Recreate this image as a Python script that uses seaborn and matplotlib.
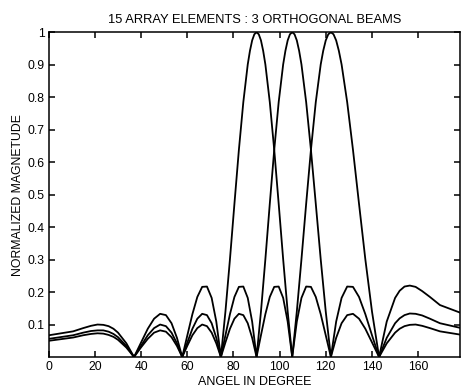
import matplotlib
matplotlib.use("Agg")
import matplotlib.pyplot as plt
import seaborn as sns
import pandas as pd

# Angle samples (degrees) read along the x axis
angle = [0, 10.476, 14.835, 18.195, 21.039, 23.556, 25.842, 27.953, 29.926,
         33.557, 36.870, 39.945, 42.834, 45.573, 48.190, 50.704, 53.130, 55.482,
         57.769, 60.0, 62.182, 64.321, 66.422, 68.490, 70.529, 72.542, 74.534,
         76.507, 78.463, 80.406, 82.338, 84.261, 86.178, 88.090, 90.0, 91.910,
         93.822, 95.739, 97.662, 99.594, 101.537, 103.493, 105.466, 107.458,
         109.471, 111.510, 113.578, 115.679, 117.818, 120.0, 122.231, 124.518,
         126.870, 129.296, 131.810, 134.427, 137.166, 140.055, 143.130, 146.443,
         150.074, 152.047, 154.158, 156.444, 158.961, 161.805, 165.165, 169.524,
         180.0]

# Beam 1 (peak near 90 deg)
beam1 = [0.067, 0.079, 0.089, 0.096, 0.100, 0.099, 0.095, 0.087, 0.075,
         0.042, 0.0, 0.045, 0.087, 0.118, 0.133, 0.129, 0.104, 0.059,
         0.0, 0.067, 0.132, 0.185, 0.216, 0.217, 0.182, 0.109, 0.0,
         0.140, 0.301, 0.472, 0.638, 0.785, 0.901, 0.975, 1.0, 0.975,
         0.901, 0.785, 0.638, 0.472, 0.301, 0.140, 0.0, 0.109,
         0.182, 0.217, 0.216, 0.185, 0.132, 0.067, 0.0, 0.059,
         0.104, 0.129, 0.133, 0.118, 0.087, 0.045, 0.0, 0.042,
         0.075, 0.087, 0.095, 0.099, 0.100, 0.096, 0.089, 0.079,
         0.067]

# Beam 2 (peak near 105 deg)
beam2 = [0.056, 0.067, 0.075, 0.080, 0.082, 0.082, 0.078, 0.071, 0.061,
         0.034, 0.0, 0.035, 0.067, 0.089, 0.100, 0.095, 0.075, 0.042,
         0.0, 0.045, 0.087, 0.118, 0.133, 0.129, 0.104, 0.059, 0.0,
         0.067, 0.132, 0.185, 0.216, 0.217, 0.182, 0.109, 0.0, 0.140,
         0.301, 0.472, 0.638, 0.785, 0.901, 0.975, 1.0, 0.975,
         0.901, 0.785, 0.638, 0.472, 0.301, 0.140, 0.0, 0.109,
         0.182, 0.217, 0.216, 0.185, 0.132, 0.067, 0.0, 0.059,
         0.104, 0.119, 0.129, 0.134, 0.133, 0.128, 0.118, 0.104,
         0.087]

# Beam 3 (peak near 122 deg)
beam3 = [0.050, 0.060, 0.067, 0.071, 0.073, 0.072, 0.068, 0.062, 0.053,
         0.029, 0.0, 0.030, 0.056, 0.075, 0.082, 0.078, 0.061, 0.034,
         0.0, 0.035, 0.067, 0.089, 0.100, 0.095, 0.075, 0.042, 0.0,
         0.045, 0.087, 0.118, 0.133, 0.129, 0.104, 0.059, 0.0, 0.067,
         0.132, 0.185, 0.216, 0.217, 0.182, 0.109, 0.0, 0.140,
         0.301, 0.472, 0.638, 0.785, 0.901, 0.975, 1.0, 0.975,
         0.901, 0.785, 0.638, 0.472, 0.301, 0.140, 0.0, 0.109,
         0.182, 0.204, 0.217, 0.220, 0.216, 0.203, 0.185, 0.160,
         0.132]

# Extra readings around each main-lobe top
peak_angle_b1 = [87.134, 89.045, 90.955, 92.866]
peak_angle_b2 = [102.513, 104.478, 106.459, 108.461]
peak_angle_b3 = [118.903, 121.107, 123.367, 125.685]
peak_mag = [0.943, 0.994, 0.994, 0.943]

x_ticks = [0, 20, 40, 60, 80, 100, 120, 140, 160]
y_ticks = [0.1, 0.2, 0.3, 0.4, 0.5, 0.6, 0.7, 0.8, 0.9, 1.0]
y_tick_labels = ["0.1", "0.2", "0.3", "0.4", "0.5", "0.6", "0.7", "0.8", "0.9", "1"]

title = "15 ARRAY ELEMENTS : 3 ORTHOGONAL BEAMS"
xlabel = "ANGEL IN DEGREE"
ylabel = "NORMALIZED MAGNETUDE"

frames = []
for name, mags, pk in (("b1", beam1, peak_angle_b1),
                       ("b2", beam2, peak_angle_b2),
                       ("b3", beam3, peak_angle_b3)):
    frames.append(pd.DataFrame({"angle": angle + pk,
                                "mag": mags + peak_mag,
                                "beam": name}))
df = pd.concat(frames, ignore_index=True)

sns.set_style("ticks")
plt.rcParams["font.family"] = ["Liberation Sans", "DejaVu Sans"]
plt.rcParams["text.color"] = "black"
plt.rcParams["axes.labelcolor"] = "black"

W, H = 461, 392
fig = plt.figure(figsize=(W / 100, H / 100), dpi=100)
ax = fig.add_axes([49 / W, 1 - 357 / H, (459.5 - 49) / W, (357 - 32.3) / H])

sns.lineplot(data=df, x="angle", y="mag", units="beam", estimator=None,
             color="black", linewidth=1.3, sort=True, ax=ax)

ax.set_xlim(0, 178)
ax.set_ylim(0, 1)
ax.set_xticks(x_ticks)
ax.set_xticklabels([str(t) for t in x_ticks])
ax.set_yticks(y_ticks)
ax.set_yticklabels(y_tick_labels)
for s in ax.spines.values():
    s.set_visible(True)
    s.set_color("black")
    s.set_linewidth(1.1)
ax.tick_params(direction="in", length=4, width=1.1, top=True, right=True,
               labelsize=8.7, colors="black", labelcolor="black", pad=3)

ax.set_title(title, fontsize=9.3, pad=7, color="black")
ax.set_xlabel(xlabel, fontsize=9.0, labelpad=2, color="black")
ax.set_ylabel(ylabel, fontsize=8.8, labelpad=3, color="black")

fig.savefig("out.png", dpi=100)
